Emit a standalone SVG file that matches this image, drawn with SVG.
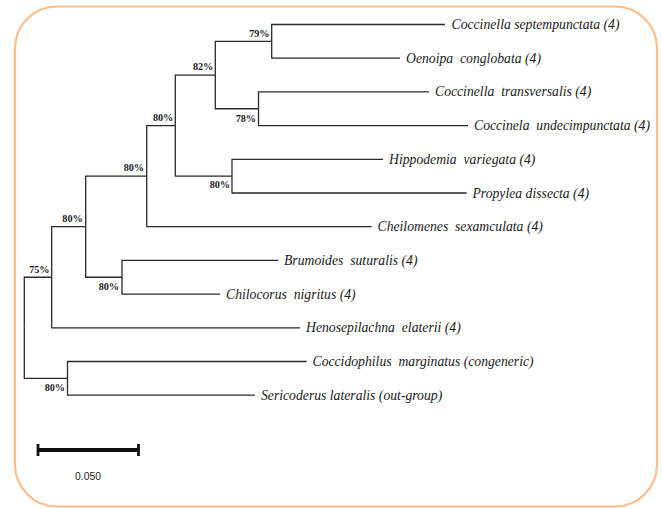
<svg xmlns="http://www.w3.org/2000/svg" width="662" height="508" viewBox="0 0 662 508">
<style>
.frame{fill:#ffffff;stroke:#fbbd8b;stroke-width:2.2}
.br{fill:none;stroke:#2a2a2a;stroke-width:1.3}
.leaf{font-family:"Liberation Serif","Times New Roman",serif;font-style:italic;font-size:13.7px;fill:#1a1a1a}
.bs{font-family:"Liberation Serif","Times New Roman",serif;font-weight:bold;font-size:10.2px;fill:#1a1a1a;text-anchor:end}
.scale{fill:none;stroke:#111;stroke-width:4}
.tick{fill:none;stroke:#111;stroke-width:2.8}
.sl{font-family:"Liberation Sans",Arial,sans-serif;font-size:11px;fill:#222}
</style>
<rect class="frame" x="15" y="6.5" width="642" height="500" rx="42" ry="42"/>
<g id="connectors">
<path class="br" d="M271.7,41.35 V24.5 H445"/>
<path class="br" d="M271.7,41.35 V58.2 H400"/>
<path class="br" d="M258.5,108.75 V91.9 H429"/>
<path class="br" d="M258.5,108.75 V125.6 H468"/>
<path class="br" d="M215.3,75.05 V41.35 H271.7"/>
<path class="br" d="M215.3,75.05 V108.75 H258.5"/>
<path class="br" d="M232,176.15 V159.3 H383"/>
<path class="br" d="M232,176.15 V193 H466.7"/>
<path class="br" d="M175.3,125.6 V75.05 H215.3"/>
<path class="br" d="M175.3,125.6 V176.15 H232"/>
<path class="br" d="M146.7,176.15 V125.6 H175.3"/>
<path class="br" d="M146.7,176.15 V226.7 H371.7"/>
<path class="br" d="M122,277.25 V260.4 H278.3"/>
<path class="br" d="M122,277.25 V294.1 H220"/>
<path class="br" d="M85.7,226.7 V176.15 H146.7"/>
<path class="br" d="M85.7,226.7 V277.25 H122"/>
<path class="br" d="M51.7,277.25 V226.7 H85.7"/>
<path class="br" d="M51.7,277.25 V327.8 H300"/>
<path class="br" d="M67.5,378.35 V361.5 H306.7"/>
<path class="br" d="M67.5,378.35 V395.2 H255"/>
<path class="br" d="M24.3,327.8 V277.25 H51.7"/>
<path class="br" d="M24.3,327.8 V378.35 H67.5"/>
</g>
<g id="leaf-coccinella-septempunctata"><text class="leaf" x="451.5" y="29" xml:space="preserve">Coccinella septempunctata (4)</text></g>
<g id="leaf-oenoipa-conglobata"><text class="leaf" x="406" y="62.7" xml:space="preserve">Oenoipa  conglobata (4)</text></g>
<g id="leaf-coccinella-transversalis"><text class="leaf" x="435" y="96.4" xml:space="preserve">Coccinella  transversalis (4)</text></g>
<g id="leaf-coccinela-undecimpunctata"><text class="leaf" x="474" y="130.1" xml:space="preserve">Coccinela  undecimpunctata (4)</text></g>
<g id="leaf-hippodemia-variegata"><text class="leaf" x="389" y="163.8" xml:space="preserve">Hippodemia  variegata (4)</text></g>
<g id="leaf-propylea-dissecta"><text class="leaf" x="472.5" y="197.5" xml:space="preserve">Propylea dissecta (4)</text></g>
<g id="leaf-cheilomenes-sexamculata"><text class="leaf" x="377.5" y="231.2" xml:space="preserve">Cheilomenes  sexamculata (4)</text></g>
<g id="leaf-brumoides-suturalis"><text class="leaf" x="284" y="264.9" xml:space="preserve">Brumoides  suturalis (4)</text></g>
<g id="leaf-chilocorus-nigritus"><text class="leaf" x="226" y="298.6" xml:space="preserve">Chilocorus  nigritus (4)</text></g>
<g id="leaf-henosepilachna-elaterii"><text class="leaf" x="306" y="332.3" xml:space="preserve">Henosepilachna  elaterii (4)</text></g>
<g id="leaf-coccidophilus-marginatus"><text class="leaf" x="312.5" y="366" xml:space="preserve">Coccidophilus  marginatus (congeneric)</text></g>
<g id="leaf-sericoderus-lateralis"><text class="leaf" x="261" y="399.7" xml:space="preserve">Sericoderus lateralis (out-group)</text></g>
<g id="node-79"><text class="bs" x="269.5" y="36.5">79%</text></g>
<g id="node-82"><text class="bs" x="213.3" y="70">82%</text></g>
<g id="node-78"><text class="bs" x="256" y="121.7">78%</text></g>
<g id="node-80b"><text class="bs" x="173.3" y="120.7">80%</text></g>
<g id="node-80a"><text class="bs" x="230" y="188">80%</text></g>
<g id="node-80c"><text class="bs" x="144" y="170.7">80%</text></g>
<g id="node-80d"><text class="bs" x="82.7" y="221.7">80%</text></g>
<g id="node-80e"><text class="bs" x="119" y="290">80%</text></g>
<g id="node-75"><text class="bs" x="49.5" y="272.7">75%</text></g>
<g id="node-80f"><text class="bs" x="65" y="390.5">80%</text></g>
<g id="scale-bar">
<line class="scale" x1="38" y1="450" x2="138.5" y2="450"/>
<line class="tick" x1="38" y1="444" x2="38" y2="456"/>
<line class="tick" x1="138.5" y1="444" x2="138.5" y2="456"/>
<text class="sl" x="75" y="480" textLength="26" lengthAdjust="spacingAndGlyphs">0.050</text>
</g>
</svg>
